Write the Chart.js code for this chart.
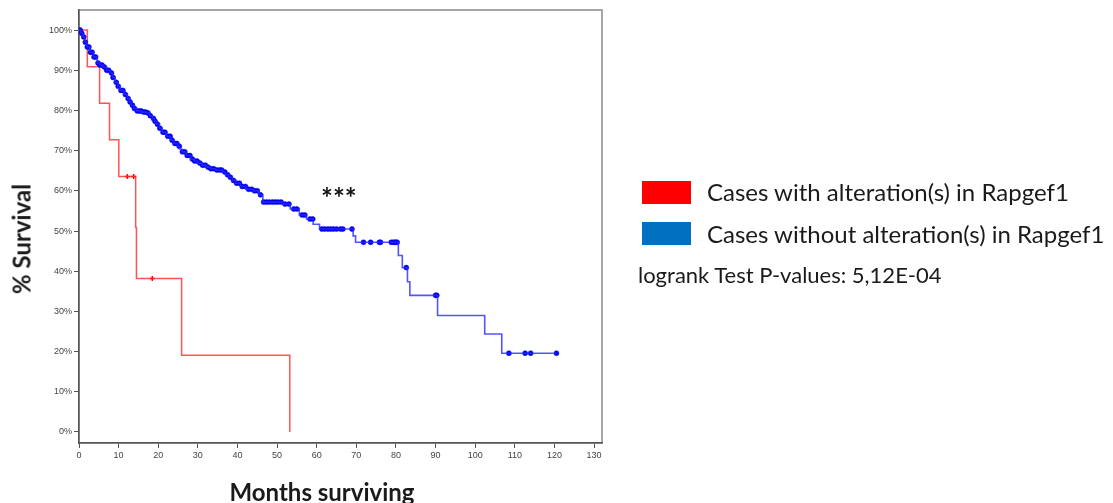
<!DOCTYPE html>
<html>
<head>
<meta charset="utf-8">
<script src="https://cdn.jsdelivr.net/npm/chart.js@4.4.1/dist/chart.umd.min.js"></script>
<style>
    body { margin: 0; background: #fff; width: 1113px; height: 503px; overflow: hidden; position: relative; font-family: Lato, "Open Sans", sans-serif; color: #1a1a1a; }
    #survChart { position: absolute; left: 0; top: 0; }
    .box { position: absolute; left: 642px; width: 49px; height: 23px; }
    .lab { position: absolute; left: 707px; font-size: 24px; line-height: 30px; white-space: nowrap; }
    .axisTitle { position: absolute; font-weight: bold; font-size: 24px; white-space: nowrap; transform: translate(-50%, -50%); }
</style>
</head>
<body>
<canvas id="survChart" width="1113" height="503"></canvas>

<div class="axisTitle" style="left:21px; top:239px; transform: translate(-50%, -50%) rotate(-90deg);">% Survival</div>
<div class="axisTitle" style="left:322px; top:491px;">Months surviving</div>

<div class="box" style="top:181px; background:#ff0000;"></div>
<div class="lab" style="top:177px;">Cases with alteration(s) in Rapgef1</div>
<div class="box" style="top:222px; background:#0070c0;"></div>
<div class="lab" style="top:219px;">Cases without alteration(s) in Rapgef1</div>
<div class="lab" style="left:638px; top:260px; font-size:22px;">logrank Test P-values: 5,12E-04</div>

<script>
// Données (mois, % survie)
const redTimes = [0, 2.1, 5.2, 7.7, 10.05, 14.3, 14.5, 25.9, 53.2];
const redSurv = [100, 90.9, 81.8, 72.7, 63.6, 50.9, 38.2, 19.1, 0];
const redCensorTimes = [12.2, 13.8, 18.5];

const blueTimes = [0, 0.5, 1.0, 1.5, 2.0, 2.8, 3.6, 4.6, 5.3, 6.1, 7.0, 7.9, 8.5, 9.1, 9.8, 10.4, 11.3, 12.2, 12.7, 13.2, 13.8, 14.5,
    15.8, 17.0, 17.8, 18.5, 19.0, 19.5, 20.3, 21.0, 22.0, 23.1, 24.0, 24.9, 25.4, 25.9, 27.0, 28.2, 29.1, 30.0, 31.0, 32.0,
    33.2, 34.5, 36.3, 37.0, 37.8, 38.7, 39.6, 40.8, 42.1, 44.0, 45.4, 46.4, 51.5, 53.3, 55.6, 57.4, 59.1, 60.7,
    69.2, 69.8, 80.6, 81.6, 82.9, 83.5, 90.5, 102.4, 106.7, 120.5];
const blueSurv = [100, 99.2, 98.3, 97.0, 95.8, 94.5, 93.3, 91.8, 91.3, 90.8, 90.0, 89.3, 88.2, 87.0, 86.0, 85.0, 84.0, 83.0, 82.1, 81.3, 80.5, 79.9,
    79.6, 79.4, 78.7, 78.0, 77.3, 76.6, 75.6, 74.6, 73.6, 72.6, 71.8, 71.1, 70.4, 69.7, 68.8, 67.9, 67.4, 66.9, 66.4, 65.9,
    65.5, 65.2, 64.7, 64.0, 63.4, 62.6, 61.9, 61.1, 60.4, 60.0, 59.0, 57.2, 56.7, 55.5, 54.0, 53.0, 51.7, 50.5,
    48.8, 47.2, 43.9, 40.9, 37.4, 34.0, 29.0, 24.4, 19.6, 19.6];
const blueCensorTimes = [0.3, 0.7, 1.2, 1.6, 2.1, 2.5, 2.9, 3.3, 3.8, 4.2, 4.8, 5.3, 5.8, 6.4, 7.0, 7.5, 8.2, 8.6, 9.4, 9.9,
    10.6, 11.1, 11.7, 12.4, 12.9, 13.5, 14.0, 14.7, 15.2, 15.7, 16.3, 16.8, 17.4, 18.0, 18.8, 19.2, 19.8, 20.4, 21.2, 21.7,
    22.4, 23.0, 23.5, 24.2, 24.7, 25.3, 26.1, 26.7, 27.3, 28.0, 28.6, 29.2, 29.8, 30.5, 31.2, 31.9, 32.6, 33.3, 34.0, 34.8,
    35.5, 36.0, 36.8, 37.5, 38.2, 39.0, 39.8, 40.5, 41.2, 42.0, 42.8, 43.6, 44.3, 45.0, 45.8, 46.6, 47.3, 48.0, 48.8, 49.5,
    50.2, 51.0, 52.0, 53.0, 54.2, 55.0, 56.3, 57.0, 58.3, 59.0, 61.3, 62.0, 62.8, 63.5, 64.2, 65.0, 66.0, 66.6, 68.9,
    71.8, 73.6, 75.8, 76.1, 78.8, 79.3, 79.7, 80.0, 80.3, 82.6, 90.0, 90.3, 108.5, 112.6, 114.0, 120.5];

const xTicks = [0, 10, 20, 30, 40, 50, 60, 70, 80, 90, 100, 110, 120, 130];
const yTicks = [0, 10, 20, 30, 40, 50, 60, 70, 80, 90, 100];

// Valeur de la courbe en escalier à un temps donné
function survAt(times, surv, t) {
    let s = surv[0];
    for (let i = 0; i < times.length; i++) {
        if (times[i] <= t) s = surv[i];
    }
    return s;
}

function toPoints(times, values) {
    return times.map((t, i) => ({ x: t, y: values[i] }));
}

const tickFont = { family: "'Liberation Sans', Arial, sans-serif", size: 9 };

// Cadre gris autour de la zone du graphique
const framePlugin = {
    id: 'frame',
    beforeDraw(chart) {
        const { ctx, chartArea: a } = chart;
        ctx.save();
        ctx.strokeStyle = '#8a8a8a';
        ctx.lineWidth = 1.5;
        ctx.strokeRect(a.left, a.top, a.right - a.left, a.bottom - a.top);
        ctx.restore();
    }
};

// Les étoiles de significativité
const starsPlugin = {
    id: 'stars',
    afterDatasetsDraw(chart) {
        const { ctx, scales } = chart;
        ctx.save();
        ctx.fillStyle = '#111';
        ctx.font = "bold 28px Lato, sans-serif";
        ctx.textAlign = 'center';
        ctx.textBaseline = 'middle';
        ctx.fillText('***', scales.x.getPixelForValue(65.6), scales.y.getPixelForValue(58));
        ctx.restore();
    }
};

const ctx = document.getElementById('survChart').getContext('2d');
new Chart(ctx, {
    type: 'line',
    data: {
        datasets: [
            {
                data: toPoints(blueTimes, blueSurv),
                borderColor: 'rgba(40, 40, 255, 0.8)',
                borderWidth: 1.6,
                stepped: 'before',
                pointRadius: 0,
                fill: false
            },
            {
                data: blueCensorTimes.map(t => ({ x: t, y: survAt(blueTimes, blueSurv, t) })),
                showLine: false,
                pointStyle: 'circle',
                pointRadius: 2.5,
                pointBackgroundColor: '#0000f0',
                pointBorderColor: '#0000f0',
                pointBorderWidth: 0.5
            },
            {
                data: toPoints(redTimes, redSurv),
                borderColor: 'rgba(255, 40, 40, 0.8)',
                borderWidth: 1.5,
                stepped: 'before',
                pointRadius: 0,
                fill: false
            },
            {
                data: redCensorTimes.map(t => ({ x: t, y: survAt(redTimes, redSurv, t) })),
                showLine: false,
                pointStyle: 'cross',
                pointRadius: 2.5,
                pointBorderColor: '#ff0000',
                pointBorderWidth: 1.5
            }
        ]
    },
    options: {
        responsive: false,
        animation: false,
        layout: { padding: { left: 0, top: 10, right: 511, bottom: 0 } },
        plugins: { legend: { display: false }, tooltip: { enabled: false } },
        scales: {
            x: {
                type: 'linear',
                min: 0,
                max: 132,
                afterBuildTicks: s => { s.ticks = xTicks.map(v => ({ value: v })); },
                afterFit: s => { s.height = 60; },
                ticks: { font: tickFont, color: '#444', padding: 2, maxRotation: 0, autoSkip: false },
                grid: { drawOnChartArea: false, tickLength: 5, tickColor: '#555', tickWidth: 1 },
                border: { color: '#555', width: 1.5 }
            },
            y: {
                min: -2.74,
                max: 105,
                afterBuildTicks: s => { s.ticks = yTicks.map(v => ({ value: v })); },
                afterFit: s => { s.width = 79; },
                ticks: { font: tickFont, color: '#444', padding: 2, callback: v => v + '%' },
                grid: { drawOnChartArea: false, tickLength: 5, tickColor: '#555', tickWidth: 1 },
                border: { color: '#555', width: 1.5 }
            }
        }
    },
    plugins: [framePlugin, starsPlugin]
});
</script>
</body>
</html>
